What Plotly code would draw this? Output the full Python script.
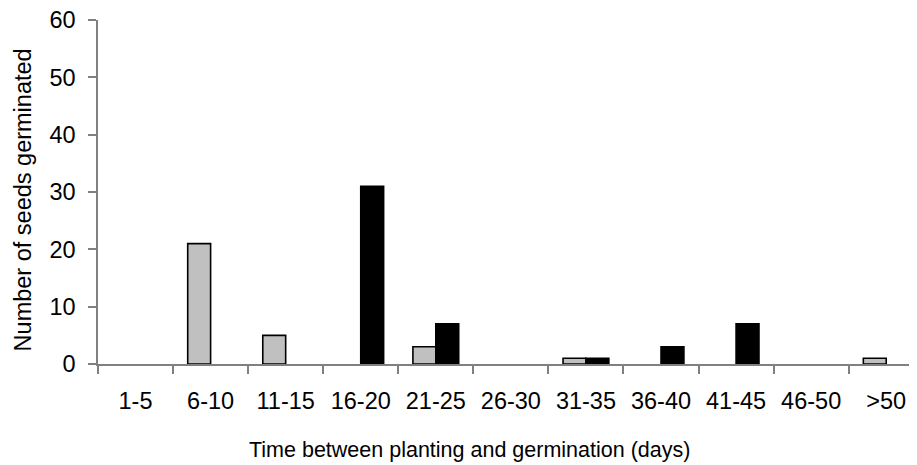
import plotly.graph_objects as go

categories = ["1-5", "6-10", "11-15", "16-20", "21-25", "26-30", "31-35", "36-40", "41-45", "46-50", ">50"]
gray_values = [0, 21, 5, 0, 3, 0, 1, 0, 0, 0, 1]
black_values = [0, 0, 0, 31, 7, 0, 1, 3, 7, 0, 0]
x_title = "Time between planting and germination (days)"
y_title = "Number of seeds germinated"

def nz(vals):
    return [v if v else None for v in vals]

fig = go.Figure()
fig.add_trace(go.Bar(x=categories, y=nz(gray_values), marker=dict(color="#c0c0c0", line=dict(color="black", width=1.6)), name="A"))
fig.add_trace(go.Bar(x=categories, y=nz(black_values), marker=dict(color="black", line=dict(color="black", width=1.6)), name="B"))

axis_col = "#808080"
font_family = "Liberation Sans, Arial, sans-serif"
fig.update_layout(
    width=909, height=457,
    margin=dict(l=90, r=0, t=12, b=101),
    plot_bgcolor="white", paper_bgcolor="white",
    barmode="group", bargap=0.39, bargroupgap=0,
    showlegend=False,
    font=dict(family=font_family, size=23.5, color="black"),
    xaxis=dict(
        showline=True, linecolor=axis_col, linewidth=1.5,
        ticks="outside", ticklen=8, tickcolor=axis_col, tickwidth=1.5,
        tickson="boundaries", ticklabelstandoff=15, ticklabeloverflow="allow",
        showgrid=False, zeroline=False,
        range=[-0.5, 10.41],
    ),
    yaxis=dict(
        range=[0, 60], dtick=10,
        showline=True, linecolor=axis_col, linewidth=1.5,
        ticks="outside", ticklen=8, tickcolor=axis_col, tickwidth=1.5,
        ticklabelstandoff=8, ticklabeloverflow="allow",
        showgrid=False, zeroline=False,
    ),
    annotations=[
        dict(text=x_title, xref="paper", yref="paper", x=0.453, y=-0.25,
             xanchor="center", yanchor="middle", showarrow=False,
             font=dict(family=font_family, size=21.5, color="black")),
        dict(text=y_title, xref="paper", yref="paper", x=-0.0922, y=0.477,
             xanchor="center", yanchor="middle", textangle=-90, showarrow=False,
             font=dict(family=font_family, size=23.5, color="black")),
    ],
)

fig.write_html("out.html")
